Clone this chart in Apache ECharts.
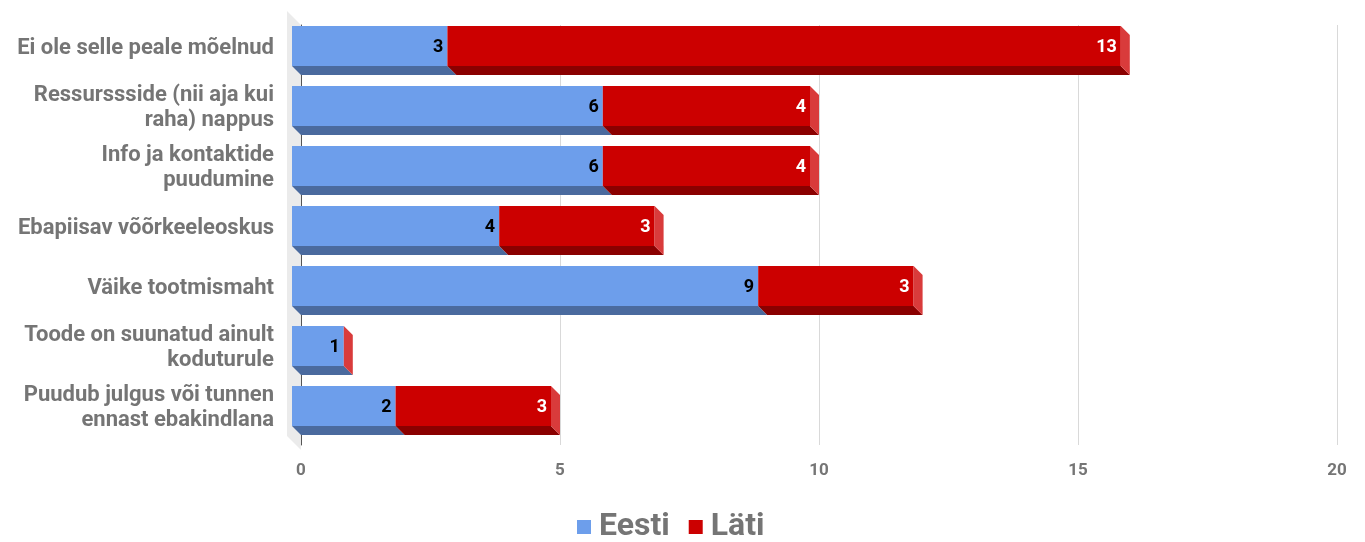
<!DOCTYPE html>
<html>
<head>
<meta charset="utf-8">
<script src="https://cdn.jsdelivr.net/npm/echarts@6/dist/echarts.min.js"></script>
<style>html,body{margin:0;padding:0;background:#fff}#c{width:1365px;height:542px}</style>
</head>
<body>
<div id="c"></div>
<script>
const categories = [
  'Ei ole selle peale mõelnud',
  'Ressurssside (nii aja kui\nraha) nappus',
  'Info ja kontaktide\npuudumine',
  'Ebapiisav võõrkeeleoskus',
  'Väike tootmismaht',
  'Toode on suunatud ainult\nkoduturule',
  'Puudub julgus või tunnen\nennast ebakindlana'
];
const eesti = [3, 6, 6, 4, 9, 1, 2];
const lati = [13, 4, 4, 3, 3, 0, 3];
const seriesNames = ['Eesti', 'Läti'];
const xTicks = [0, 5, 10, 15, 20];

const DEPTH = 9;
const FONT = 'Roboto, "Noto Sans", sans-serif';

const colors = {
  Eesti: { front: '#6d9eeb', bottom: '#4a6a9e', side: '#8db3ef', label: '#000000' },
  'Läti': { front: '#cc0000', bottom: '#8a0000', side: '#d93b3b', label: '#ffffff' }
};

function makeRender(name, isLast) {
  const c = colors[name];
  return function (params, api) {
    const x0v = api.value(0), x1v = api.value(1), cat = api.value(2), val = api.value(3);
    const p0 = api.coord([x0v, cat]);
    const p1 = api.coord([x1v, cat]);
    const band = api.size([0, 1])[1];
    const h = band * 0.667;
    const yc = p0[1] - DEPTH / 2;
    const fx0 = p0[0] - DEPTH, fx1 = p1[0] - DEPTH;
    const fyT = yc - h / 2 - DEPTH / 2, fyB = fyT + h;
    const children = [];
    if (fx1 > fx0) {
      children.push({
        type: 'polygon',
        shape: { points: [[fx0, fyB], [fx1, fyB], [fx1 + DEPTH, fyB + DEPTH], [fx0 + DEPTH, fyB + DEPTH]] },
        style: { fill: c.bottom }
      });
      children.push({
        type: 'rect',
        shape: { x: fx0, y: fyT, width: fx1 - fx0, height: h },
        style: { fill: c.front }
      });
    }
    if (isLast) {
      children.push({
        type: 'polygon',
        shape: { points: [[fx1, fyT], [fx1 + DEPTH, fyT + DEPTH], [fx1 + DEPTH, fyB + DEPTH], [fx1, fyB]] },
        style: { fill: c.side }
      });
    }
    if (val > 0) {
      children.push({
        type: 'text',
        style: {
          x: fx1 - 4, y: fyT + h / 2 + 1,
          text: String(val),
          align: 'right', verticalAlign: 'middle',
          fill: c.label,
          fontSize: 18, fontWeight: 'bold', fontFamily: FONT
        }
      });
    }
    return { type: 'group', children: children };
  };
}

const eestiData = eesti.map((v, i) => [0, v, i, v]);
const latiData = lati.map((v, i) => [eesti[i], eesti[i] + v, i, v]);

const chart = echarts.init(document.getElementById('c'));
chart.setOption({
  animation: false,
  color: [colors.Eesti.front, colors['Läti'].front],
  grid: { left: 301, right: 28, top: 25, height: 420 },
  legend: {
    data: seriesNames,
    top: 506,
    left: 572,
    icon: 'rect',
    itemWidth: 14,
    itemHeight: 14,
    itemGap: 19,
    textStyle: { fontSize: 32, fontWeight: 'bold', color: '#757575', fontFamily: FONT, padding: [0, 0, 0, 3] }
  },
  xAxis: {
    type: 'value',
    min: 0, max: 20, interval: 5,
    axisLine: { show: false },
    axisTick: { show: false },
    splitLine: { lineStyle: { color: '#d9d9d9', width: 1 } },
    axisLabel: {
      margin: 17,
      fontSize: 17, fontWeight: 'bold', color: '#757575', fontFamily: FONT,
      formatter: v => xTicks.includes(v) ? String(v) : ''
    }
  },
  yAxis: {
    type: 'category',
    data: categories,
    inverse: true,
    axisLine: { show: true, lineStyle: { color: '#555', width: 1 } },
    axisTick: { show: false },
    axisLabel: {
      interval: 0,
      hideOverlap: false,
      margin: 27,
      align: 'right',
      formatter: v => v.split('\n').map(l => '{a|' + l + '}').join('\n') + '\n{s| }',
      rich: {
        a: { fontSize: 22, fontWeight: 'bold', color: '#757575', fontFamily: FONT, lineHeight: 25, align: 'right' },
        s: { fontSize: 8, lineHeight: 14, align: 'right' }
      }
    }
  },
  series: [
    {
      type: 'custom',
      name: 'wall',
      silent: true,
      z: 0,
      data: [[0, 0]],
      encode: { x: 0, y: 1 },
      renderItem: function (params, api) {
        const cs = params.coordSys;
        const d = 14;
        const x = cs.x, yT = cs.y, yB = cs.y + cs.height + 5;
        return {
          type: 'polygon',
          shape: { points: [[x - d, yT - d], [x, yT], [x, yB], [x - d, yB - d]] },
          style: { fill: '#ebebeb' }
        };
      }
    },
    {
      type: 'custom', name: 'Eesti', z: 2,
      itemStyle: { color: colors.Eesti.front },
      data: eestiData,
      encode: { x: [0, 1], y: 2 },
      renderItem: makeRender('Eesti', false)
    },
    {
      type: 'custom', name: 'Läti', z: 3,
      itemStyle: { color: colors['Läti'].front },
      data: latiData,
      encode: { x: [0, 1], y: 2 },
      renderItem: makeRender('Läti', true)
    }
  ]
});
</script>
</body>
</html>
